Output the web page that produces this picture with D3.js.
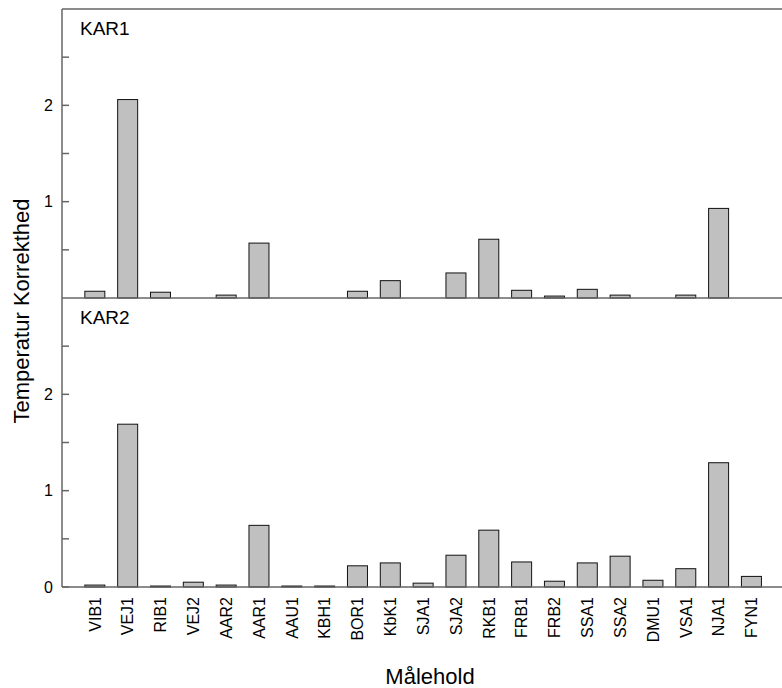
<!DOCTYPE html>
<html>
<head>
<meta charset="utf-8">
<script src="https://cdn.jsdelivr.net/npm/d3@7"></script>
<style>
  body { margin: 0; background: #fff; }
  text { font-family: "Liberation Sans", Arial, sans-serif; fill: #000; }
</style>
</head>
<body>
<div id="chart"></div>
<script>
// Målehold (stationer)
const stations = ["VIB1", "VEJ1", "RIB1", "VEJ2", "AAR2", "AAR1", "AAU1", "KBH1", "BOR1", "KbK1",
  "SJA1", "SJA2", "RKB1", "FRB1", "FRB2", "SSA1", "SSA2", "DMU1", "VSA1", "NJA1", "FYN1"];

const kar1 = [0.07, 2.06, 0.06, 0, 0.03, 0.57, 0, 0, 0.07, 0.18,
  0, 0.26, 0.61, 0.08, 0.02, 0.09, 0.03, 0, 0.03, 0.93, 0];
const kar2 = [0.02, 1.69, 0.01, 0.05, 0.02, 0.64, 0.01, 0.01, 0.22, 0.25,
  0.04, 0.33, 0.59, 0.26, 0.06, 0.25, 0.32, 0.07, 0.19, 1.29, 0.11];

const panelNames = ["KAR1", "KAR2"];
const majorTicks = [[1, 2], [0, 1, 2]];
const minorTicks = [0.5, 1.5, 2.5];

const width = 782, height = 688;
const marginLeft = 62, marginTop = 9, panelH = 289;
const axisColor = "#666";

const svg = d3.select("#chart").append("svg")
  .attr("width", width).attr("height", height);

// x: positionerne 1..21, plotområdet går lidt ud over højre kant
const x = d3.scaleLinear().domain([0, 22]).range([marginLeft, marginLeft + 22 * 32.83]);
const barW = 20;

const series = [kar1, kar2];

series.forEach((vals, p) => {
  const y0 = marginTop + p * panelH;
  const y = d3.scaleLinear().domain([0, 3]).range([y0 + panelH, y0]);
  const g = svg.append("g");

  // søjler
  g.selectAll("rect")
    .data(vals.map((v, i) => ({ name: stations[i], value: v, i })).filter(d => d.value > 0))
    .join("rect")
    .attr("x", d => x(d.i + 1) - barW / 2)
    .attr("y", d => y(d.value))
    .attr("width", barW)
    .attr("height", d => y(0) - y(d.value))
    .attr("fill", "#c0c0c0")
    .attr("stroke", "#111")
    .attr("stroke-width", 1);

  // y-akse med ticks indad
  const axis = g.append("g").attr("transform", `translate(${marginLeft},0)`);
  axis.selectAll("line.major").data(majorTicks[p]).join("line")
    .attr("class", "major")
    .attr("x1", 0).attr("x2", 7)
    .attr("y1", d => y(d)).attr("y2", d => y(d))
    .attr("stroke", axisColor).attr("stroke-width", 1.5);
  axis.selectAll("line.minor").data(minorTicks).join("line")
    .attr("class", "minor")
    .attr("x1", 0).attr("x2", 7)
    .attr("y1", d => y(d)).attr("y2", d => y(d))
    .attr("stroke", axisColor).attr("stroke-width", 1.5);
  axis.selectAll("text").data(majorTicks[p]).join("text")
    .attr("x", -9).attr("y", d => y(d))
    .attr("dy", "0.36em")
    .attr("text-anchor", "end")
    .style("font-size", "16px")
    .text(d => d);

  // linje ved 0
  g.append("line")
    .attr("x1", marginLeft).attr("x2", width)
    .attr("y1", y(0)).attr("y2", y(0))
    .attr("stroke", axisColor).attr("stroke-width", 1.5);

  g.append("text")
    .attr("x", 80).attr("y", y0 + 26)
    .style("font-size", "19px")
    .text(panelNames[p]);
});

// ramme: top og venstre
svg.append("line")
  .attr("x1", marginLeft).attr("x2", width)
  .attr("y1", marginTop).attr("y2", marginTop)
  .attr("stroke", axisColor).attr("stroke-width", 1.5);
svg.append("line")
  .attr("x1", marginLeft).attr("x2", marginLeft)
  .attr("y1", marginTop).attr("y2", marginTop + 2 * panelH)
  .attr("stroke", axisColor).attr("stroke-width", 1.5);

// x-labels, roteret
svg.append("g").selectAll("text").data(stations).join("text")
  .attr("transform", (d, i) => `translate(${x(i + 1)},${marginTop + 2 * panelH + 10}) rotate(-90)`)
  .attr("text-anchor", "end")
  .attr("dy", "0.36em")
  .style("font-size", "16px")
  .text(d => d);

// aksetitler
svg.append("text")
  .attr("x", 430).attr("y", 684)
  .attr("text-anchor", "middle")
  .style("font-size", "22px")
  .text("Målehold");

svg.append("text")
  .attr("transform", "translate(29,311) rotate(-90)")
  .attr("text-anchor", "middle")
  .style("font-size", "22px")
  .text("Temperatur Korrekthed");
</script>
</body>
</html>
